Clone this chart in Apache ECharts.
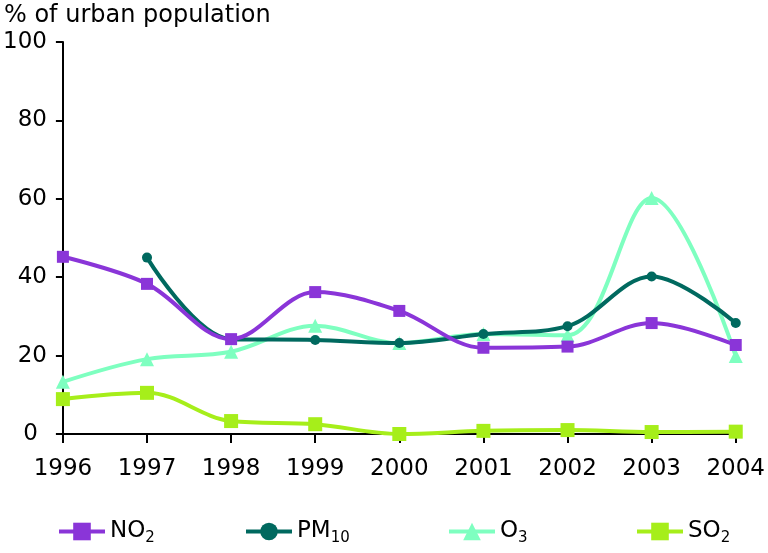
<!DOCTYPE html>
<html><head><meta charset="utf-8">
<script src="https://cdn.jsdelivr.net/npm/echarts@6/dist/echarts.min.js"></script>
<style>html,body{margin:0;padding:0;background:#fff}#c{width:768px;height:553px}</style>
</head><body><div id="c"></div>
<script>
const years = ['1996','1997','1998','1999','2000','2001','2002','2003','2004'];
const no2  = [45.2, 38.3, 24.2, 36.2, 31.4, 22.0, 22.3, 28.3, 22.7];
const pm10 = [null, 45.0, 24.2, 24.0, 23.2, 25.5, 27.5, 40.2, 28.3];
const o3   = [13.3, 19.1, 21.0, 27.6, 23.2, 25.5, 25.2, 60.2, 19.9];
const so2  = [8.9, 10.5, 3.3, 2.5, 0.0, 0.8, 1.0, 0.5, 0.6];
const yTicks = [0, 20, 40, 60, 80, 100];

const font = 'DejaVu Sans';
const colors = {NO2:'#8a35d8', PM10:'#00695f', O3:'#7effc0', SO2:'#a6ee1a'};
const labels = {NO2:'{a|NO}{s|2}', PM10:'{a|PM}{s|10}', O3:'{a|O}{s|3}', SO2:'{a|SO}{s|2}'};
const rich = {a:{fontFamily:font,fontSize:23,color:'#000'}, s:{fontFamily:font,fontSize:15,color:'#000',padding:[14,0,0,0]}};

function mkSeries(name, data, symbol, size){
  return {name, type:'line', data, smooth:0.35, symbol, symbolSize:size, showSymbol:true,
    connectNulls:false,
    lineStyle:{color:colors[name], width:4}, itemStyle:{color:colors[name]}};
}
function mkLegend(name, left){
  return {data:[name], left, top:520, itemWidth:46, itemHeight:22, itemGap:0, padding:0,
    lineStyle:{width:4}, formatter:()=>labels[name], textStyle:{rich}};
}
const chart = echarts.init(document.getElementById('c'));
chart.setOption({
  animation:false,
  title:{text:'% of urban population', left:4, top:4, padding:0, textStyle:{fontFamily:font,fontSize:24,fontWeight:'normal',color:'#000'}},
  grid:{left:59, right:29, top:42, bottom:119},
  legend:[mkLegend('NO2',57), mkLegend('PM10',244), mkLegend('O3',447), mkLegend('SO2',635)],
  xAxis:{type:'category', data:years, boundaryGap:false,
    axisLine:{lineStyle:{color:'#000',width:2}},
    axisTick:{alignWithLabel:true, length:9, lineStyle:{color:'#000',width:2}},
    axisLabel:{fontFamily:font,fontSize:23,color:'#000',margin:24},
    splitLine:{show:false}},
  yAxis:{type:'value', min:0, max:100, interval:20,
    axisLine:{show:true, lineStyle:{color:'#000',width:2}},
    axisTick:{show:true, length:7, lineStyle:{color:'#000',width:2}},
    axisLabel:{fontFamily:font,fontSize:23,color:'#000',margin:16,
      formatter:v=>yTicks.includes(v)?(v===0?'{z|0}':String(v)):'',
      rich:{z:{fontFamily:font,fontSize:23,color:'#000',padding:[0,9,0,0]}}},
    splitLine:{show:false}},
  series:[
    mkSeries('SO2', so2, 'rect', 14),
    mkSeries('O3', o3, 'triangle', 14),
    mkSeries('PM10', pm10, 'circle', 10),
    mkSeries('NO2', no2, 'rect', 12)
  ]
});
</script></body></html>
